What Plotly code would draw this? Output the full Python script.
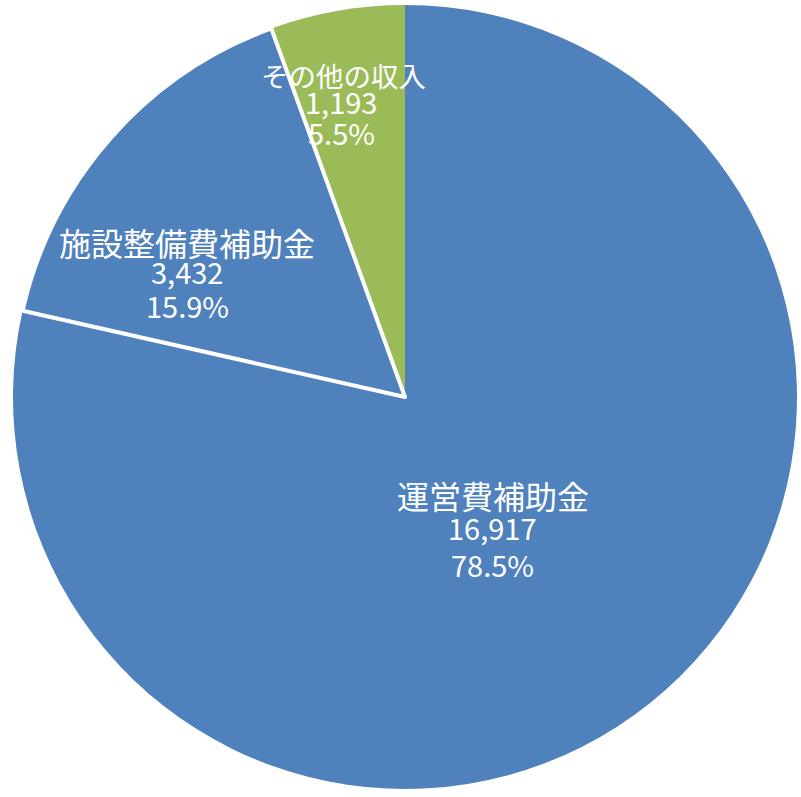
import math
import plotly.graph_objects as go

# ---- data ----
categories = ["運営費補助金", "施設整備費補助金", "その他の収入"]
values = [16917, 3432, 1193]

# ---- style ----
colors = ["#4F81BD", "#4F81BD", "#9BBB59"]
border_widths = [0, 4, 0]
W, H = 801, 797
CX, CY, R = 405, 397, 392                # pie centre / radius in px
label_radius = [0.399, 0.643, 0.773]      # radial position of label block
label_angle_shift = [4.8, -11.3, -2.3]    # deg, relative to slice mid-angle
line_offsets = [(-31.5, 0, 37.5), (-29, 0, 34.5), (-26, 0, 31.5)]
line_dx = [(1, 0, 0), (0.5, 0, 0.5), (3, 0, 1)]
name_sizes = [32, 32, 27.5]
num_size = 29
FONT = "Noto Sans CJK JP"

fig = go.Figure()
dom = dict(x=[(CX - R) / W, (CX + R) / W], y=[1 - (CY + R) / H, 1 - (CY - R) / H])
fig.add_trace(go.Pie(
    labels=categories, values=values, sort=False, direction="clockwise", rotation=0,
    marker=dict(colors=colors, line=dict(width=0)),
    textinfo="none", hoverinfo="label+value+percent", showlegend=False, domain=dom,
))
# overlay trace: white edge around 施設整備費補助金 on top of neighbours
fig.add_trace(go.Pie(
    labels=categories, values=values, sort=False, direction="clockwise", rotation=0,
    marker=dict(colors=["rgba(0,0,0,0)"] * 3, line=dict(color="white", width=border_widths)),
    textinfo="none", hoverinfo="skip", showlegend=False, domain=dom,
))

total = sum(values)
cum = 0
annotations = []
for i, (name, v) in enumerate(zip(categories, values)):
    mid = (cum + v / 2) / total * 360
    cum += v
    th = math.radians(mid + label_angle_shift[i])
    px = CX + label_radius[i] * R * math.sin(th)
    py = CY - label_radius[i] * R * math.cos(th)
    pct = f"{v / total * 100:.1f}%"
    texts = [name, f"{v:,}", pct]
    sizes = [name_sizes[i], num_size, num_size]
    for t, off, dx, sz in zip(texts, line_offsets[i], line_dx[i], sizes):
        annotations.append(dict(
            x=(px + dx) / W, y=1 - (py + off) / H, xref="paper", yref="paper",
            text=t, showarrow=False, xanchor="center", yanchor="middle", borderpad=0,
            font=dict(family=FONT, size=sz, color="white"),
        ))

fig.update_layout(
    width=W, height=H, margin=dict(l=0, r=0, t=0, b=0),
    paper_bgcolor="white", plot_bgcolor="white", annotations=annotations,
)
fig.write_html("out.html", config={"displayModeBar": False},
               post_script="document.body.style.margin='0px';")
